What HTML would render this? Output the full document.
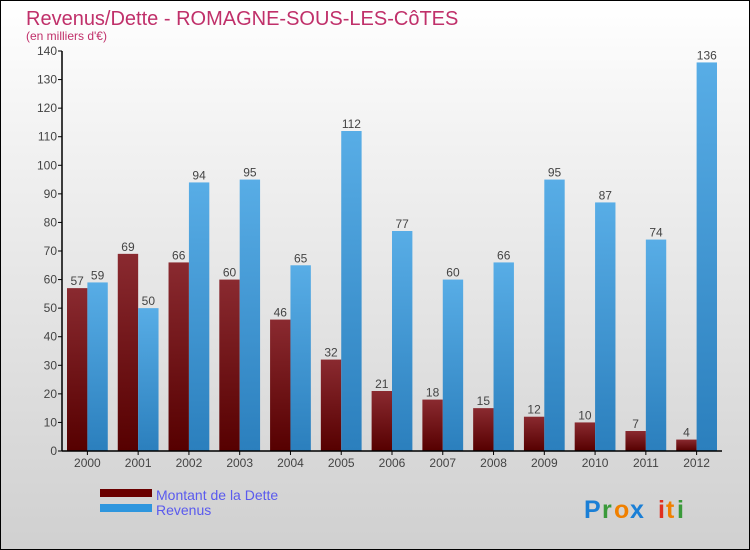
<!DOCTYPE html>
<html><head><meta charset="utf-8"><style>
body{margin:0}
#c{position:relative;width:748px;height:548px;border:1px solid #000;background:linear-gradient(#fff,#f2f2f2 25%,#d0d0d0);font-family:"Liberation Sans",sans-serif;overflow:hidden}
</style></head><body>
<div id="c">
<svg width="748" height="548" id="svg" style="position:absolute;left:0;top:0">
<defs>
<linearGradient id="gd" x1="0" y1="0" x2="0" y2="1"><stop offset="0" stop-color="#8a2a30"/><stop offset="1" stop-color="#560000"/></linearGradient>
<linearGradient id="gr" x1="0" y1="0" x2="0" y2="1"><stop offset="0" stop-color="#58ade6"/><stop offset="1" stop-color="#2b7fbd"/></linearGradient>
</defs>
<text x="25" y="24" font-size="20" fill="#c0306a">Revenus/Dette - ROMAGNE-SOUS-LES-CôTES</text>
<text x="25" y="39" font-size="12" fill="#c0306a">(en milliers d'€)</text>
<g id="plot"></g>
<rect x="99" y="488" width="52" height="8" fill="#6a0000"/>
<rect x="99" y="503" width="52" height="8" fill="#2e96de"/>
<text x="155" y="499" font-size="14" fill="#5a5aee">Montant de la Dette</text>
<text x="155" y="514" font-size="14" fill="#5a5aee">Revenus</text>
<g font-size="25" font-weight="bold">
<text x="583" y="517" fill="#1a7fd6">P</text><text x="601" y="517" fill="#3a9a3a">r</text><text x="613" y="517" fill="#f08000">o</text><text x="629" y="517" fill="#1a7fd6">x</text><text x="657" y="517" fill="#e03020">i</text><text x="665" y="517" fill="#f08000">t</text><text x="676" y="517" fill="#3a9a3a">i</text>
</g>
</svg>
</div>
<script>
const years=["2000","2001","2002","2003","2004","2005","2006","2007","2008","2009","2010","2011","2012"];
const dette=[57,69,66,60,46,32,21,18,15,12,10,7,4];
const revenus=[59,50,94,95,65,112,77,60,66,95,87,74,136];
const ticks=[0,10,20,30,40,50,60,70,80,90,100,110,120,130,140];
const NS="http://www.w3.org/2000/svg";
const g=document.getElementById('plot');
const x0=61,x1=721,y0=450,yTop=50,maxV=140;
const y=v=>y0-(v/maxV)*(y0-yTop);
const band=(x1-x0)/years.length;
function el(t,a){const e=document.createElementNS(NS,t);for(const k in a)e.setAttribute(k,a[k]);g.appendChild(e);return e;}
ticks.forEach(t=>{
 const l=el('line',{x1:x0-4,x2:x0,y1:y(t),y2:y(t),stroke:'#000'});
 
 
 const tx=el('text',{x:x0-5,y:y(t)+4,'font-size':12,fill:'#444','text-anchor':'end'});
 tx.textContent=t;
 
 
});
years.forEach((yr,i)=>{
 const bx=x0+i*band+5,w=(band-10)/2;
 const vals=[[dette[i],'url(#gd)','bar-dette'],[revenus[i],'url(#gr)','bar-revenus']];
 vals.forEach((v,j)=>{
  const r=el('rect',{x:bx+j*w,y:y(v[0]),width:w,height:y0-y(v[0]),fill:v[1]});
  
  
  const t=el('text',{x:bx+j*w+w/2,y:y(v[0])-3,'font-size':12,fill:'#444','text-anchor':'middle'});
  t.textContent=v[0];
  
  
 });
 const cx=x0+(i+0.5)*band;
 const tk=el('line',{x1:cx,x2:cx,y1:y0,y2:y0+4,stroke:'#000'});
 
 
 const lb=el('text',{x:cx,y:y0+16,'font-size':12,fill:'#444','text-anchor':'middle'});
 lb.textContent=yr;
 
 
});
const ax=el('line',{x1:x0,x2:x0,y1:yTop,y2:y0,stroke:'#000','stroke-width':1.5});


const axx=el('line',{x1:x0,x2:x1,y1:y0,y2:y0,stroke:'#000','stroke-width':1.5});


</script>
</body></html>
